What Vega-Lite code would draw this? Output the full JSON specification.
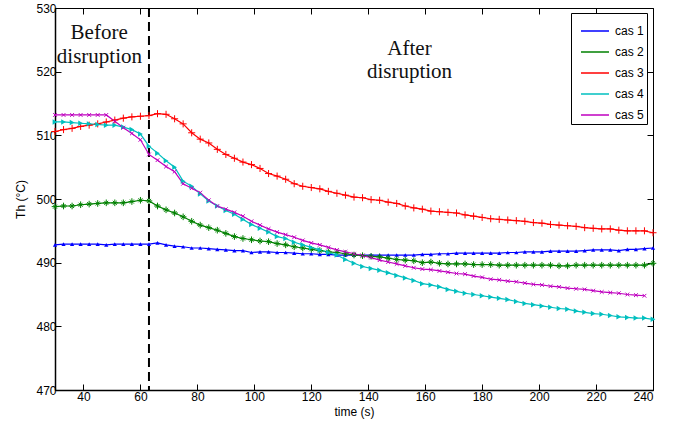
{
  "$schema": "https://vega.github.io/schema/vega-lite/v6.json",
  "autosize": {"type": "none"},
  "width": 598,
  "height": 382,
  "padding": {"left": 55, "top": 8, "right": 23, "bottom": 41},
  "background": "white",
  "data": {
    "values": [
      {"t":30,"cas":"cas 1","Th":492.8},{"t":33,"cas":"cas 1","Th":492.9},{"t":36,"cas":"cas 1","Th":492.9},{"t":39,"cas":"cas 1","Th":492.9},{"t":42,"cas":"cas 1","Th":492.9},{"t":45,"cas":"cas 1","Th":492.9},{"t":48,"cas":"cas 1","Th":492.8},{"t":51,"cas":"cas 1","Th":492.9},{"t":54,"cas":"cas 1","Th":492.9},{"t":57,"cas":"cas 1","Th":492.9},{"t":60,"cas":"cas 1","Th":492.9},{"t":63,"cas":"cas 1","Th":492.9},{"t":66,"cas":"cas 1","Th":493.1},{"t":69,"cas":"cas 1","Th":492.8},{"t":72,"cas":"cas 1","Th":492.6},{"t":75,"cas":"cas 1","Th":492.5},{"t":78,"cas":"cas 1","Th":492.3},{"t":81,"cas":"cas 1","Th":492.3},{"t":84,"cas":"cas 1","Th":492.2},{"t":87,"cas":"cas 1","Th":492.1},{"t":90,"cas":"cas 1","Th":492.0},{"t":93,"cas":"cas 1","Th":491.9},{"t":96,"cas":"cas 1","Th":491.9},{"t":99,"cas":"cas 1","Th":491.6},{"t":102,"cas":"cas 1","Th":491.7},{"t":105,"cas":"cas 1","Th":491.7},{"t":108,"cas":"cas 1","Th":491.6},{"t":111,"cas":"cas 1","Th":491.6},{"t":114,"cas":"cas 1","Th":491.5},{"t":117,"cas":"cas 1","Th":491.4},{"t":120,"cas":"cas 1","Th":491.4},{"t":123,"cas":"cas 1","Th":491.3},{"t":126,"cas":"cas 1","Th":491.3},{"t":129,"cas":"cas 1","Th":491.2},{"t":132,"cas":"cas 1","Th":491.2},{"t":135,"cas":"cas 1","Th":491.2},{"t":138,"cas":"cas 1","Th":491.2},{"t":141,"cas":"cas 1","Th":491.2},{"t":144,"cas":"cas 1","Th":491.2},{"t":147,"cas":"cas 1","Th":491.2},{"t":150,"cas":"cas 1","Th":491.2},{"t":153,"cas":"cas 1","Th":491.2},{"t":156,"cas":"cas 1","Th":491.2},{"t":159,"cas":"cas 1","Th":491.3},{"t":162,"cas":"cas 1","Th":491.3},{"t":165,"cas":"cas 1","Th":491.4},{"t":168,"cas":"cas 1","Th":491.4},{"t":171,"cas":"cas 1","Th":491.5},{"t":174,"cas":"cas 1","Th":491.5},{"t":177,"cas":"cas 1","Th":491.5},{"t":180,"cas":"cas 1","Th":491.5},{"t":183,"cas":"cas 1","Th":491.5},{"t":186,"cas":"cas 1","Th":491.5},{"t":189,"cas":"cas 1","Th":491.6},{"t":192,"cas":"cas 1","Th":491.6},{"t":195,"cas":"cas 1","Th":491.7},{"t":198,"cas":"cas 1","Th":491.7},{"t":201,"cas":"cas 1","Th":491.7},{"t":204,"cas":"cas 1","Th":491.8},{"t":207,"cas":"cas 1","Th":491.8},{"t":210,"cas":"cas 1","Th":491.8},{"t":213,"cas":"cas 1","Th":491.8},{"t":216,"cas":"cas 1","Th":491.9},{"t":219,"cas":"cas 1","Th":492.0},{"t":222,"cas":"cas 1","Th":492.0},{"t":225,"cas":"cas 1","Th":492.0},{"t":228,"cas":"cas 1","Th":491.9},{"t":231,"cas":"cas 1","Th":492.1},{"t":234,"cas":"cas 1","Th":492.1},{"t":237,"cas":"cas 1","Th":492.2},{"t":240,"cas":"cas 1","Th":492.3},
      {"t":30,"cas":"cas 2","Th":498.8},{"t":33,"cas":"cas 2","Th":498.9},{"t":36,"cas":"cas 2","Th":498.9},{"t":39,"cas":"cas 2","Th":499.1},{"t":42,"cas":"cas 2","Th":499.2},{"t":45,"cas":"cas 2","Th":499.3},{"t":48,"cas":"cas 2","Th":499.4},{"t":51,"cas":"cas 2","Th":499.4},{"t":54,"cas":"cas 2","Th":499.4},{"t":57,"cas":"cas 2","Th":499.6},{"t":60,"cas":"cas 2","Th":499.8},{"t":63,"cas":"cas 2","Th":499.7},{"t":66,"cas":"cas 2","Th":498.9},{"t":69,"cas":"cas 2","Th":498.3},{"t":72,"cas":"cas 2","Th":497.8},{"t":75,"cas":"cas 2","Th":497.2},{"t":78,"cas":"cas 2","Th":496.5},{"t":81,"cas":"cas 2","Th":495.9},{"t":84,"cas":"cas 2","Th":495.5},{"t":87,"cas":"cas 2","Th":495.1},{"t":90,"cas":"cas 2","Th":494.6},{"t":93,"cas":"cas 2","Th":494.1},{"t":96,"cas":"cas 2","Th":493.8},{"t":99,"cas":"cas 2","Th":493.6},{"t":102,"cas":"cas 2","Th":493.4},{"t":105,"cas":"cas 2","Th":493.3},{"t":108,"cas":"cas 2","Th":493.0},{"t":111,"cas":"cas 2","Th":492.8},{"t":114,"cas":"cas 2","Th":492.5},{"t":117,"cas":"cas 2","Th":492.3},{"t":120,"cas":"cas 2","Th":492.1},{"t":123,"cas":"cas 2","Th":491.9},{"t":126,"cas":"cas 2","Th":491.7},{"t":129,"cas":"cas 2","Th":491.6},{"t":132,"cas":"cas 2","Th":491.4},{"t":135,"cas":"cas 2","Th":491.2},{"t":138,"cas":"cas 2","Th":491.1},{"t":141,"cas":"cas 2","Th":491.0},{"t":144,"cas":"cas 2","Th":490.9},{"t":147,"cas":"cas 2","Th":490.7},{"t":150,"cas":"cas 2","Th":490.5},{"t":153,"cas":"cas 2","Th":490.4},{"t":156,"cas":"cas 2","Th":490.3},{"t":159,"cas":"cas 2","Th":490.0},{"t":162,"cas":"cas 2","Th":490.1},{"t":165,"cas":"cas 2","Th":489.9},{"t":168,"cas":"cas 2","Th":489.8},{"t":171,"cas":"cas 2","Th":489.8},{"t":174,"cas":"cas 2","Th":489.8},{"t":177,"cas":"cas 2","Th":489.7},{"t":180,"cas":"cas 2","Th":489.7},{"t":183,"cas":"cas 2","Th":489.7},{"t":186,"cas":"cas 2","Th":489.6},{"t":189,"cas":"cas 2","Th":489.6},{"t":192,"cas":"cas 2","Th":489.6},{"t":195,"cas":"cas 2","Th":489.6},{"t":198,"cas":"cas 2","Th":489.6},{"t":201,"cas":"cas 2","Th":489.6},{"t":204,"cas":"cas 2","Th":489.6},{"t":207,"cas":"cas 2","Th":489.5},{"t":210,"cas":"cas 2","Th":489.5},{"t":213,"cas":"cas 2","Th":489.6},{"t":216,"cas":"cas 2","Th":489.6},{"t":219,"cas":"cas 2","Th":489.6},{"t":222,"cas":"cas 2","Th":489.6},{"t":225,"cas":"cas 2","Th":489.6},{"t":228,"cas":"cas 2","Th":489.6},{"t":231,"cas":"cas 2","Th":489.6},{"t":234,"cas":"cas 2","Th":489.6},{"t":237,"cas":"cas 2","Th":489.6},{"t":240,"cas":"cas 2","Th":489.9},
      {"t":30,"cas":"cas 3","Th":510.6},{"t":33,"cas":"cas 3","Th":510.9},{"t":36,"cas":"cas 3","Th":511.1},{"t":39,"cas":"cas 3","Th":511.4},{"t":42,"cas":"cas 3","Th":511.6},{"t":45,"cas":"cas 3","Th":511.8},{"t":48,"cas":"cas 3","Th":512.1},{"t":51,"cas":"cas 3","Th":512.4},{"t":54,"cas":"cas 3","Th":512.7},{"t":57,"cas":"cas 3","Th":512.9},{"t":60,"cas":"cas 3","Th":513.0},{"t":63,"cas":"cas 3","Th":513.1},{"t":66,"cas":"cas 3","Th":513.4},{"t":69,"cas":"cas 3","Th":513.3},{"t":72,"cas":"cas 3","Th":512.6},{"t":75,"cas":"cas 3","Th":511.8},{"t":78,"cas":"cas 3","Th":510.4},{"t":81,"cas":"cas 3","Th":509.4},{"t":84,"cas":"cas 3","Th":508.8},{"t":87,"cas":"cas 3","Th":507.8},{"t":90,"cas":"cas 3","Th":507.0},{"t":93,"cas":"cas 3","Th":506.4},{"t":96,"cas":"cas 3","Th":505.8},{"t":99,"cas":"cas 3","Th":505.4},{"t":102,"cas":"cas 3","Th":504.8},{"t":105,"cas":"cas 3","Th":504.0},{"t":108,"cas":"cas 3","Th":503.6},{"t":111,"cas":"cas 3","Th":503.1},{"t":114,"cas":"cas 3","Th":502.4},{"t":117,"cas":"cas 3","Th":502.0},{"t":120,"cas":"cas 3","Th":501.8},{"t":123,"cas":"cas 3","Th":501.6},{"t":126,"cas":"cas 3","Th":501.2},{"t":129,"cas":"cas 3","Th":500.9},{"t":132,"cas":"cas 3","Th":500.6},{"t":135,"cas":"cas 3","Th":500.3},{"t":138,"cas":"cas 3","Th":500.2},{"t":141,"cas":"cas 3","Th":499.9},{"t":144,"cas":"cas 3","Th":499.8},{"t":147,"cas":"cas 3","Th":499.5},{"t":150,"cas":"cas 3","Th":499.3},{"t":153,"cas":"cas 3","Th":498.9},{"t":156,"cas":"cas 3","Th":498.6},{"t":159,"cas":"cas 3","Th":498.4},{"t":162,"cas":"cas 3","Th":498.1},{"t":165,"cas":"cas 3","Th":498.0},{"t":168,"cas":"cas 3","Th":497.9},{"t":171,"cas":"cas 3","Th":497.8},{"t":174,"cas":"cas 3","Th":497.5},{"t":177,"cas":"cas 3","Th":497.3},{"t":180,"cas":"cas 3","Th":497.1},{"t":183,"cas":"cas 3","Th":496.9},{"t":186,"cas":"cas 3","Th":496.8},{"t":189,"cas":"cas 3","Th":496.7},{"t":192,"cas":"cas 3","Th":496.6},{"t":195,"cas":"cas 3","Th":496.5},{"t":198,"cas":"cas 3","Th":496.3},{"t":201,"cas":"cas 3","Th":496.2},{"t":204,"cas":"cas 3","Th":496.0},{"t":207,"cas":"cas 3","Th":495.9},{"t":210,"cas":"cas 3","Th":495.8},{"t":213,"cas":"cas 3","Th":495.7},{"t":216,"cas":"cas 3","Th":495.5},{"t":219,"cas":"cas 3","Th":495.4},{"t":222,"cas":"cas 3","Th":495.3},{"t":225,"cas":"cas 3","Th":495.3},{"t":228,"cas":"cas 3","Th":495.1},{"t":231,"cas":"cas 3","Th":495.0},{"t":234,"cas":"cas 3","Th":495.0},{"t":237,"cas":"cas 3","Th":495.0},{"t":240,"cas":"cas 3","Th":494.7},
      {"t":30,"cas":"cas 4","Th":512.1},{"t":33,"cas":"cas 4","Th":512.1},{"t":36,"cas":"cas 4","Th":512.0},{"t":39,"cas":"cas 4","Th":511.9},{"t":42,"cas":"cas 4","Th":511.8},{"t":45,"cas":"cas 4","Th":511.7},{"t":48,"cas":"cas 4","Th":511.6},{"t":51,"cas":"cas 4","Th":511.6},{"t":54,"cas":"cas 4","Th":511.3},{"t":57,"cas":"cas 4","Th":510.9},{"t":60,"cas":"cas 4","Th":510.2},{"t":63,"cas":"cas 4","Th":508.3},{"t":66,"cas":"cas 4","Th":507.2},{"t":69,"cas":"cas 4","Th":506.0},{"t":72,"cas":"cas 4","Th":505.0},{"t":75,"cas":"cas 4","Th":502.8},{"t":78,"cas":"cas 4","Th":502.0},{"t":81,"cas":"cas 4","Th":500.8},{"t":84,"cas":"cas 4","Th":499.7},{"t":87,"cas":"cas 4","Th":498.9},{"t":90,"cas":"cas 4","Th":498.2},{"t":93,"cas":"cas 4","Th":497.6},{"t":96,"cas":"cas 4","Th":496.8},{"t":99,"cas":"cas 4","Th":496.0},{"t":102,"cas":"cas 4","Th":495.4},{"t":105,"cas":"cas 4","Th":494.8},{"t":108,"cas":"cas 4","Th":494.1},{"t":111,"cas":"cas 4","Th":493.8},{"t":114,"cas":"cas 4","Th":493.2},{"t":117,"cas":"cas 4","Th":492.8},{"t":120,"cas":"cas 4","Th":492.4},{"t":123,"cas":"cas 4","Th":492.0},{"t":126,"cas":"cas 4","Th":491.6},{"t":129,"cas":"cas 4","Th":491.2},{"t":132,"cas":"cas 4","Th":490.5},{"t":135,"cas":"cas 4","Th":489.9},{"t":138,"cas":"cas 4","Th":489.4},{"t":141,"cas":"cas 4","Th":489.1},{"t":144,"cas":"cas 4","Th":488.8},{"t":147,"cas":"cas 4","Th":488.4},{"t":150,"cas":"cas 4","Th":488.0},{"t":153,"cas":"cas 4","Th":487.6},{"t":156,"cas":"cas 4","Th":487.2},{"t":159,"cas":"cas 4","Th":486.7},{"t":162,"cas":"cas 4","Th":486.5},{"t":165,"cas":"cas 4","Th":486.2},{"t":168,"cas":"cas 4","Th":485.8},{"t":171,"cas":"cas 4","Th":485.5},{"t":174,"cas":"cas 4","Th":485.2},{"t":177,"cas":"cas 4","Th":485.0},{"t":180,"cas":"cas 4","Th":484.8},{"t":183,"cas":"cas 4","Th":484.6},{"t":186,"cas":"cas 4","Th":484.4},{"t":189,"cas":"cas 4","Th":484.2},{"t":192,"cas":"cas 4","Th":483.9},{"t":195,"cas":"cas 4","Th":483.6},{"t":198,"cas":"cas 4","Th":483.4},{"t":201,"cas":"cas 4","Th":483.2},{"t":204,"cas":"cas 4","Th":483.0},{"t":207,"cas":"cas 4","Th":482.8},{"t":210,"cas":"cas 4","Th":482.7},{"t":213,"cas":"cas 4","Th":482.4},{"t":216,"cas":"cas 4","Th":482.2},{"t":219,"cas":"cas 4","Th":482.0},{"t":222,"cas":"cas 4","Th":481.9},{"t":225,"cas":"cas 4","Th":481.7},{"t":228,"cas":"cas 4","Th":481.5},{"t":231,"cas":"cas 4","Th":481.4},{"t":234,"cas":"cas 4","Th":481.3},{"t":237,"cas":"cas 4","Th":481.3},{"t":240,"cas":"cas 4","Th":481.1},
      {"t":30,"cas":"cas 5","Th":513.2},{"t":33,"cas":"cas 5","Th":513.2},{"t":36,"cas":"cas 5","Th":513.2},{"t":39,"cas":"cas 5","Th":513.2},{"t":42,"cas":"cas 5","Th":513.2},{"t":45,"cas":"cas 5","Th":513.2},{"t":48,"cas":"cas 5","Th":513.2},{"t":51,"cas":"cas 5","Th":512.2},{"t":54,"cas":"cas 5","Th":511.2},{"t":57,"cas":"cas 5","Th":510.3},{"t":60,"cas":"cas 5","Th":509.3},{"t":63,"cas":"cas 5","Th":507.0},{"t":66,"cas":"cas 5","Th":506.1},{"t":69,"cas":"cas 5","Th":505.1},{"t":72,"cas":"cas 5","Th":504.3},{"t":75,"cas":"cas 5","Th":502.4},{"t":78,"cas":"cas 5","Th":501.7},{"t":81,"cas":"cas 5","Th":501.0},{"t":84,"cas":"cas 5","Th":499.8},{"t":87,"cas":"cas 5","Th":498.9},{"t":90,"cas":"cas 5","Th":498.4},{"t":93,"cas":"cas 5","Th":497.9},{"t":96,"cas":"cas 5","Th":497.3},{"t":99,"cas":"cas 5","Th":496.5},{"t":102,"cas":"cas 5","Th":495.9},{"t":105,"cas":"cas 5","Th":495.3},{"t":108,"cas":"cas 5","Th":494.8},{"t":111,"cas":"cas 5","Th":494.4},{"t":114,"cas":"cas 5","Th":494.0},{"t":117,"cas":"cas 5","Th":493.5},{"t":120,"cas":"cas 5","Th":493.1},{"t":123,"cas":"cas 5","Th":492.8},{"t":126,"cas":"cas 5","Th":492.4},{"t":129,"cas":"cas 5","Th":492.0},{"t":132,"cas":"cas 5","Th":491.7},{"t":135,"cas":"cas 5","Th":491.4},{"t":138,"cas":"cas 5","Th":491.1},{"t":141,"cas":"cas 5","Th":490.8},{"t":144,"cas":"cas 5","Th":490.4},{"t":147,"cas":"cas 5","Th":490.1},{"t":150,"cas":"cas 5","Th":489.8},{"t":153,"cas":"cas 5","Th":489.5},{"t":156,"cas":"cas 5","Th":489.2},{"t":159,"cas":"cas 5","Th":489.0},{"t":162,"cas":"cas 5","Th":488.9},{"t":165,"cas":"cas 5","Th":488.7},{"t":168,"cas":"cas 5","Th":488.5},{"t":171,"cas":"cas 5","Th":488.3},{"t":174,"cas":"cas 5","Th":488.2},{"t":177,"cas":"cas 5","Th":487.9},{"t":180,"cas":"cas 5","Th":487.7},{"t":183,"cas":"cas 5","Th":487.4},{"t":186,"cas":"cas 5","Th":487.3},{"t":189,"cas":"cas 5","Th":487.1},{"t":192,"cas":"cas 5","Th":487.0},{"t":195,"cas":"cas 5","Th":486.8},{"t":198,"cas":"cas 5","Th":486.6},{"t":201,"cas":"cas 5","Th":486.5},{"t":204,"cas":"cas 5","Th":486.3},{"t":207,"cas":"cas 5","Th":486.2},{"t":210,"cas":"cas 5","Th":486.0},{"t":213,"cas":"cas 5","Th":485.9},{"t":216,"cas":"cas 5","Th":485.8},{"t":219,"cas":"cas 5","Th":485.6},{"t":222,"cas":"cas 5","Th":485.4},{"t":225,"cas":"cas 5","Th":485.3},{"t":228,"cas":"cas 5","Th":485.2},{"t":231,"cas":"cas 5","Th":485.0},{"t":234,"cas":"cas 5","Th":484.9},{"t":237,"cas":"cas 5","Th":484.8}
    ]
  },
  "layer": [
    {
      "data": {"values": [{"t": 63}]},
      "mark": {"type": "rule", "color": "black", "strokeWidth": 2, "strokeDash": [9, 5]},
      "encoding": {
        "x": {"field": "t", "type": "quantitative", "axis": null}
      }
    },
    {
      "mark": {"type": "line", "strokeWidth": 1.2},
      "encoding": {
        "x": {
          "field": "t", "type": "quantitative",
          "scale": {"domain": [30, 240], "nice": false, "zero": false},
          "axis": {"title": "time (s)", "values": [40, 60, 80, 100, 120, 140, 160, 180, 200, 220, 240], "labelPadding": 7, "titlePadding": 4}
        },
        "y": {
          "field": "Th", "type": "quantitative",
          "scale": {"domain": [470, 530], "nice": false, "zero": false},
          "axis": {"title": "Th (°C)", "values": [470, 480, 490, 500, 510, 520, 530], "labelPadding": 5, "titlePadding": 8}
        },
        "stroke": {
          "field": "cas", "type": "nominal",
          "scale": {"domain": ["cas 1", "cas 2", "cas 3", "cas 4", "cas 5"], "range": ["#0000ff", "#008000", "#ff0000", "#00bfbf", "#bf00bf"]},
          "legend": {
            "title": null, "orient": "none", "legendX": 516, "legendY": 5,
            "symbolType": "stroke", "symbolSize": 784, "symbolStrokeWidth": 1.5, "symbolOffset": 6,
            "strokeColor": "black", "fillColor": "white", "padding": 3, "rowPadding": -3,
            "labelFont": "Liberation Sans", "labelFontSize": 12, "labelColor": "black", "labelOffset": 5
          }
        }
      }
    },
    {
      "transform": [{"filter": {"field": "cas", "equal": "cas 1"}}],
      "mark": {"type": "point", "shape": "triangle-up", "filled": true, "opacity": 1, "size": 18, "color": "#0000ff"},
      "encoding": {
        "x": {"field": "t", "type": "quantitative", "axis": null},
        "y": {"field": "Th", "type": "quantitative", "axis": null}
      }
    },
    {
      "transform": [{"filter": {"field": "cas", "equal": "cas 2"}}],
      "mark": {"type": "point", "shape": "M-1,0L1,0M0,-1L0,1M-0.6,-0.6L0.6,0.6M-0.6,0.6L0.6,-0.6", "filled": false, "opacity": 1, "size": 44, "strokeWidth": 1, "color": "#008000"},
      "encoding": {
        "x": {"field": "t", "type": "quantitative", "axis": null},
        "y": {"field": "Th", "type": "quantitative", "axis": null}
      }
    },
    {
      "transform": [{"filter": {"field": "cas", "equal": "cas 3"}}],
      "mark": {"type": "point", "shape": "M-1,0L1,0M0,-1L0,1", "filled": false, "opacity": 1, "size": 50, "strokeWidth": 1, "color": "#ff0000"},
      "encoding": {
        "x": {"field": "t", "type": "quantitative", "axis": null},
        "y": {"field": "Th", "type": "quantitative", "axis": null}
      }
    },
    {
      "transform": [{"filter": {"field": "cas", "equal": "cas 4"}}],
      "mark": {"type": "point", "shape": "triangle-right", "filled": true, "opacity": 1, "size": 30, "color": "#00bfbf"},
      "encoding": {
        "x": {"field": "t", "type": "quantitative", "axis": null},
        "y": {"field": "Th", "type": "quantitative", "axis": null}
      }
    },
    {
      "transform": [{"filter": {"field": "cas", "equal": "cas 5"}}],
      "mark": {"type": "point", "shape": "M-1,-1L1,1M-1,1L1,-1", "filled": false, "opacity": 1, "size": 14, "strokeWidth": 1, "color": "#bf00bf"},
      "encoding": {
        "x": {
          "field": "t", "type": "quantitative",
          "axis": {"orient": "top", "labels": false, "title": null, "domain": false, "values": [40, 60, 80, 100, 120, 140, 160, 180, 200, 220, 240]}
        },
        "y": {
          "field": "Th", "type": "quantitative",
          "axis": {"orient": "right", "labels": false, "title": null, "domain": false, "values": [470, 480, 490, 500, 510, 520, 530]}
        }
      }
    },
    {
      "data": {
        "values": [
          {"t": 45.5, "Th": 525.1, "note": "Before"},
          {"t": 45.6, "Th": 521.4, "note": "disruption"},
          {"t": 154.5, "Th": 522.6, "note": "After"},
          {"t": 154.5, "Th": 519.0, "note": "disruption"}
        ]
      },
      "mark": {"type": "text", "font": "Liberation Serif", "fontSize": 21, "align": "center", "baseline": "alphabetic", "color": "#111"},
      "encoding": {
        "x": {"field": "t", "type": "quantitative", "axis": null},
        "y": {"field": "Th", "type": "quantitative", "axis": null},
        "text": {"field": "note"}
      }
    }
  ],
  "resolve": {"axis": {"x": "independent", "y": "independent"}},
  "config": {
    "view": {"stroke": "black", "strokeWidth": 1},
    "axis": {
      "grid": false,
      "domainColor": "black",
      "domainWidth": 1.5,
      "tickColor": "black",
      "tickSize": -6,
      "tickWidth": 1,
      "labelColor": "black",
      "labelFont": "Liberation Sans",
      "labelFontSize": 12,
      "titleColor": "black",
      "titleFont": "Liberation Sans",
      "titleFontSize": 12,
      "titleFontWeight": "normal"
    }
  }
}
